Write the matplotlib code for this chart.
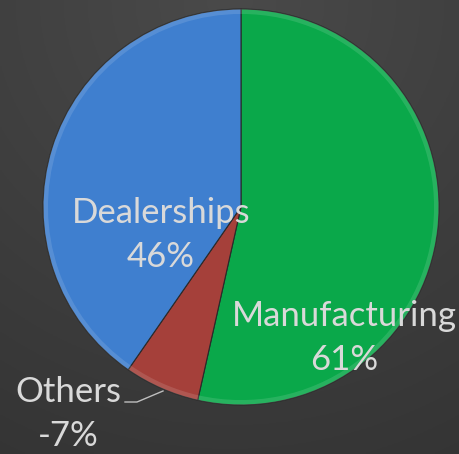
import matplotlib
matplotlib.use("Agg")
import matplotlib.pyplot as plt
import numpy as np

categories = ["Manufacturing", "Others", "Dealerships"]
values = [61, -7, 46]
colors = ["#0aa84a", "#a5403a", "#3f7fcf"]

W, H = 460, 454
fig = plt.figure(figsize=(W / 100, H / 100), dpi=100)

# background gradient
bg = fig.add_axes([0, 0, 1, 1])
yy, xx = np.mgrid[0:1:200j, 0:1:200j]
d = np.sqrt((xx - 0.5) ** 2 + (yy - 0.0) ** 2)
shade = 0.29 - 0.09 * np.clip(d, 0, 1.2) / 1.2
img = np.dstack([shade, shade, shade])
bg.imshow(img, extent=[0, 1, 0, 1], aspect="auto", origin="upper")
bg.axis("off")

cx, cy, r = 241, 207, 198
ax = fig.add_axes([(cx - r) / W, (H - cy - r) / H, 2 * r / W, 2 * r / H])
sizes = [abs(v) for v in values]
wedges, _ = ax.pie(sizes, colors=colors, startangle=90, counterclock=False,
                   wedgeprops=dict(edgecolor="#2a2a2a", linewidth=0.8))
# subtle bevel rim
ax.pie(sizes, colors=["white"] * 3, startangle=90, counterclock=False, radius=1.0,
       wedgeprops=dict(width=0.025, alpha=0.12, linewidth=0))
ax.set_xlim(-1, 1)
ax.set_ylim(-1, 1)
ax.set_aspect("equal")
ax.axis("off")

font = dict(family=["Lato", "DejaVu Sans"], fontsize=25, color="#d9d9d9",
            ha="center", va="center", linespacing=1.45)

def px(x, y):
    return ((x - cx) / r, (cy - y) / r)

lab_pos = {"Manufacturing": (344, 338), "Others": (68, 414), "Dealerships": (161, 235)}
for cat, v in zip(categories, values):
    x, y = px(*lab_pos[cat])
    ax.text(x, y, f"{cat}\n{v}%", clip_on=False, **font)

pts = [px(125, 402), px(137, 402), px(163, 391)]
ax.plot([p[0] for p in pts], [p[1] for p in pts], color="#bfbfbf", lw=1, clip_on=False)

fig.savefig("out.png", dpi=100)
